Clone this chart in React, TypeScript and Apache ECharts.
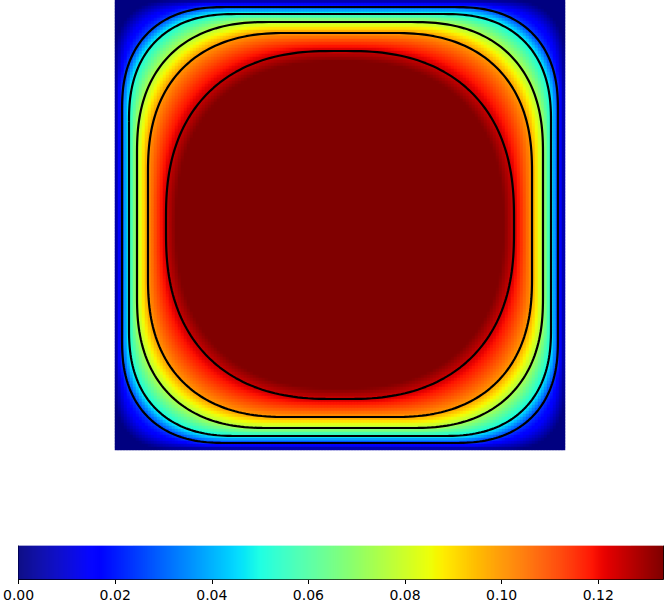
import React, { useEffect, useRef } from "react";
import * as echarts from "echarts";

// ---- values (domain is the unit square) ----
const contourLevels = [0.025, 0.05, 0.075, 0.1, 0.125];
// inset of each contour from the wall, measured on the mid-line
const contourEdgeInset = [0.0156, 0.0311, 0.0489, 0.0733, 0.1133];
// inset of each contour from both walls, measured on the diagonal
const contourDiagInset = [0.0733, 0.0911, 0.1222, 0.1511, 0.2067];
// zero-velocity wall / dead corner
const wallValue = 0;
const wallEdgeInset = 0;
const wallDiagInset = 0.033;
// plug (plateau) region
const plugValue = 0.1334;
const plugEdgeInset = 0.136;
const plugDiagInset = 0.235;
// colour bar
const cbMin = 0;
const cbMax = 0.1334;
const cbTicks = [0, 0.02, 0.04, 0.06, 0.08, 0.1, 0.12];

const GRID_N = 150;
const CB_N = 647;
const K = 2.4; // corner shape exponent

function jet(t: number): string {
  const seg = (pts: number[][], x: number) => {
    for (let i = 0; i < pts.length - 1; i++) {
      const [x0, y0] = pts[i];
      const [x1, y1] = pts[i + 1];
      if (x >= x0 && x <= x1) return y0 + ((y1 - y0) * (x - x0)) / (x1 - x0 || 1);
    }
    return pts[pts.length - 1][1];
  };
  const r = seg([[0, 0], [0.35, 0], [0.66, 1], [0.89, 1], [1, 0.5]], t);
  const g = seg([[0, 0], [0.125, 0], [0.375, 1], [0.64, 1], [0.91, 0], [1, 0]], t);
  const b = seg([[0, 0.5], [0.11, 1], [0.34, 1], [0.65, 0], [1, 0]], t);
  const h = (v: number) => Math.round(v * 255).toString(16).padStart(2, "0");
  return "#" + h(r) + h(g) + h(b);
}

const cornerFactor = 1 - Math.pow(2, -1 / K);
function cornerRadius(d: number, D: number) {
  return Math.max(0.001, Math.min((D - d) / cornerFactor, 0.5 - d));
}

function insideDist(x: number, y: number, d: number, R: number) {
  const cx = Math.min(x, 1 - x);
  const cy = Math.min(y, 1 - y);
  const c = d + R;
  if (cx < c && cy < c) {
    const u = c - cx;
    const v = c - cy;
    return R - Math.pow(Math.pow(u, K) + Math.pow(v, K), 1 / K);
  }
  return Math.min(cx, cy) - d;
}

function buildField() {
  const vals = [wallValue, ...contourLevels, plugValue];
  const ds = [wallEdgeInset, ...contourEdgeInset, plugEdgeInset];
  const Ds = [wallDiagInset, ...contourDiagInset, plugDiagInset];
  const Rs = ds.map((d, i) => cornerRadius(d, Ds[i]));
  const data: number[][] = [];
  for (let i = 0; i < GRID_N; i++) {
    for (let j = 0; j < GRID_N; j++) {
      const x = (i + 0.5) / GRID_N;
      const y = (j + 0.5) / GRID_N;
      const f = ds.map((d, k) => insideDist(x, y, d, Rs[k]));
      let v: number;
      if (f[0] <= 0) v = vals[0];
      else if (f[f.length - 1] >= 0) v = vals[vals.length - 1];
      else {
        let k = 0;
        while (k < f.length - 1 && f[k + 1] >= 0) k++;
        const t = f[k] / (f[k] - f[k + 1]);
        v = vals[k] + t * (vals[k + 1] - vals[k]);
      }
      data.push([i, j, v]);
    }
  }
  return data;
}

function contourPath(d: number, D: number) {
  const R = cornerRadius(d, D);
  const n = 60;
  const tl: number[][] = [];
  for (let s = 0; s <= n; s++) {
    const th = (s / n) * (Math.PI / 2);
    const cu = Math.pow(Math.cos(th), 2 / K);
    const sv = Math.pow(Math.sin(th), 2 / K);
    tl.push([d + R - R * cu, d + R - R * sv]);
  }
  const tr = tl.map(([x, y]) => [1 - x, y]).reverse();
  const br = tl.map(([x, y]) => [1 - x, 1 - y]);
  const bl = tl.map(([x, y]) => [x, 1 - y]).reverse();
  const pts = [...tl, ...tr, ...br, ...bl];
  pts.push(pts[0]);
  return pts;
}

export default function App() {
  const ref = useRef<HTMLDivElement>(null);
  useEffect(() => {
    if (!ref.current) return;
    const chart = echarts.init(ref.current, undefined, { renderer: "svg" });
    const jetColors: string[] = [];
    for (let i = 0; i <= 128; i++) jetColors.push(jet(i / 128));
    const field = buildField();
    const cats = Array.from({ length: GRID_N }, (_, i) => String(i));
    const cbCats = Array.from({ length: CB_N }, (_, i) => String(i));
    const cbData = cbCats.map((_, i) => [i, 0, cbMin + ((i + 0.5) / CB_N) * (cbMax - cbMin)]);
    const font = "DejaVu Sans";
    const black = "#000";
    const lineSeries = contourLevels.map((lv, i) => ({
      name: String(lv),
      type: "line",
      xAxisIndex: 1,
      yAxisIndex: 1,
      data: contourPath(contourEdgeInset[i], contourDiagInset[i]),
      symbol: "none",
      showSymbol: false,
      silent: true,
      z: 5,
      lineStyle: { color: black, width: 2.2 },
    }));
    chart.setOption({
      animation: false,
      textStyle: { fontFamily: font },
      grid: [
        { left: 115, top: 0, width: 450, height: 450 },
        { left: 16, top: 546, width: 647, height: 33 },
      ],
      xAxis: [
        { type: "category", gridIndex: 0, data: cats, show: false },
        { type: "value", gridIndex: 0, min: 0, max: 1, show: false },
        {
          type: "category", gridIndex: 1, data: cbCats, position: "top",
          axisLine: { show: true, lineStyle: { color: black, width: 1 } },
          axisTick: { show: false }, axisLabel: { show: false },
        },
        {
          type: "value", gridIndex: 1, min: cbMin, max: cbMax, interval: 0.02, position: "bottom",
          axisLine: { show: true, lineStyle: { color: black, width: 1 } },
          axisTick: { show: true, length: 5, lineStyle: { color: black, width: 1 }, customValues: cbTicks },
          axisLabel: {
            show: true, customValues: cbTicks,
            formatter: (v: number) => v.toFixed(2),
            color: black, fontSize: 14, margin: 9, fontFamily: font,
          },
          splitLine: { show: false },
        },
      ],
      yAxis: [
        { type: "category", gridIndex: 0, data: cats, show: false, inverse: true },
        { type: "value", gridIndex: 0, min: 0, max: 1, show: false, inverse: true },
        {
          type: "category", gridIndex: 1, data: ["0"], position: "left",
          axisLine: { show: true, lineStyle: { color: black, width: 1 } },
          axisTick: { show: false }, axisLabel: { show: false },
        },
        {
          type: "value", gridIndex: 1, min: 0, max: 1, position: "right",
          axisLine: { show: true, lineStyle: { color: black, width: 1 } },
          axisTick: { show: false }, axisLabel: { show: false }, splitLine: { show: false },
        },
      ],
      visualMap: {
        type: "continuous",
        show: false,
        min: cbMin,
        max: cbMax,
        dimension: 2,
        seriesIndex: [0, 1],
        inRange: { color: jetColors },
      },
      series: [
        {
          type: "heatmap",
          xAxisIndex: 0,
          yAxisIndex: 0,
          data: field,
          progressive: 0,
          silent: true,
          itemStyle: { borderWidth: 0 },
          emphasis: { disabled: true },
        },
        {
          type: "heatmap",
          xAxisIndex: 2,
          yAxisIndex: 2,
          data: cbData,
          progressive: 0,
          silent: true,
          itemStyle: { borderWidth: 0 },
          emphasis: { disabled: true },
        },
        ...lineSeries,
      ],
    });
    return () => chart.dispose();
  }, []);
  return (
    <div
      ref={ref}
      style={{ position: "fixed", left: 0, top: 0, width: 664, height: 602, background: "#fff" }}
    />
  );
}
